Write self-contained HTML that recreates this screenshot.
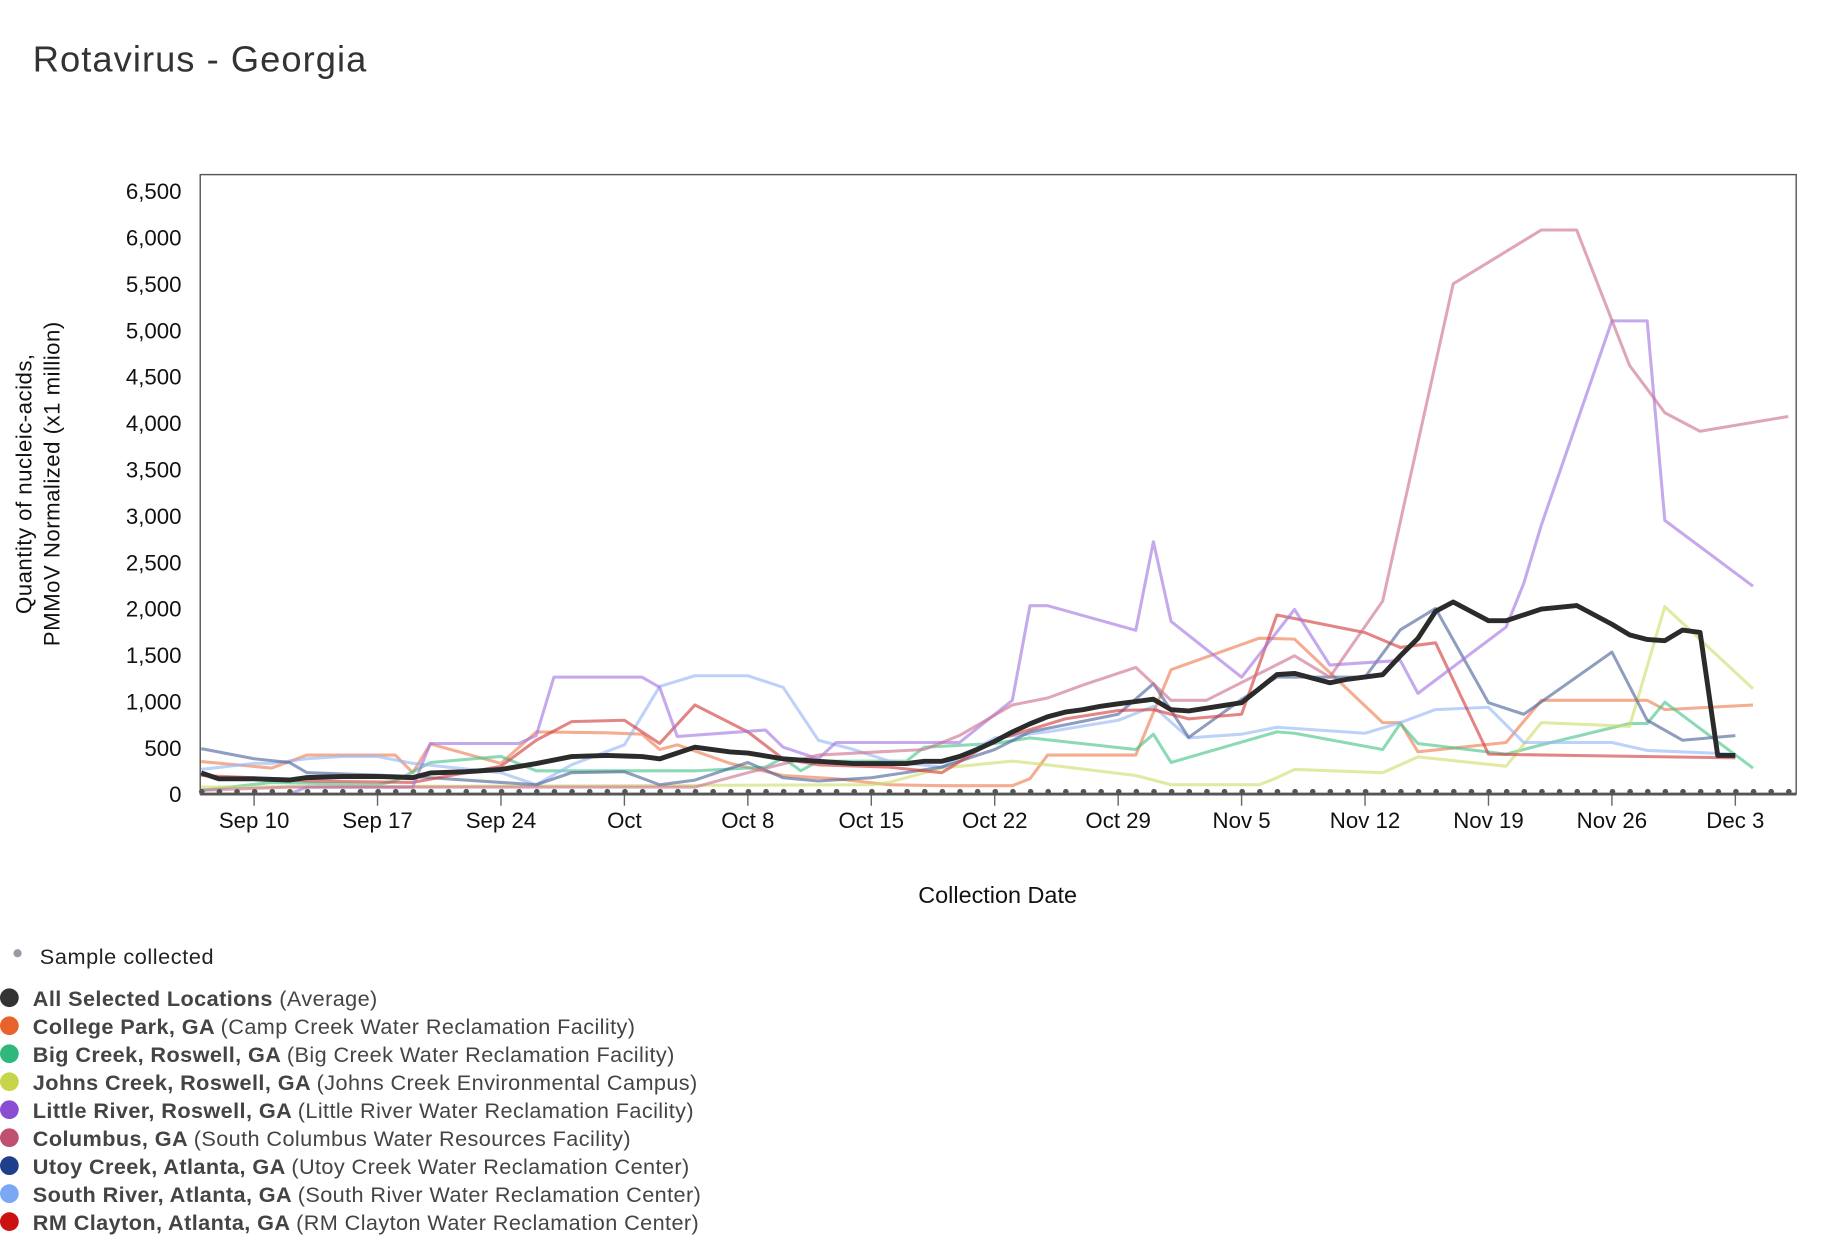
<!DOCTYPE html>
<html><head><meta charset="utf-8"><style>
html,body{margin:0;padding:0;background:#fff;}
svg{display:block;font-family:"Liberation Sans",sans-serif;}
</style></head><body>
<svg id="chart" width="1836" height="1252" viewBox="0 0 1568 1069" xmlns="http://www.w3.org/2000/svg">
<text x="28" y="61" font-size="31" letter-spacing="0.9" fill="#333">Rotavirus - Georgia</text>
<rect x="171" y="149" width="1363" height="529" fill="none" stroke="#555" stroke-width="1.2"/>
<g id="series"></g>
<g id="axes"></g>
<text x="852" y="771" font-size="20" text-anchor="middle" fill="#111">Collection Date</text>
<text transform="translate(27,413) rotate(-90)" font-size="19" letter-spacing="0.4" text-anchor="middle" fill="#111"><tspan x="0" dy="0">Quantity of nucleic-acids,</tspan><tspan x="0" dy="24">PMMoV Normalized (x1 million)</tspan></text>
<g id="legend"></g>
</svg>
<script>
const NS="http://www.w3.org/2000/svg";
const yTicks=[0,500,1000,1500,2000,2500,3000,3500,4000,4500,5000,5500,6000,6500];
const xTickDays=[0,7,14,21,28,35,42,49,56,63,70,77,84];
const xTickLabels=["Sep 10","Sep 17","Sep 24","Oct","Oct 8","Oct 15","Oct 22","Oct 29","Nov 5","Nov 12","Nov 19","Nov 26","Dec 3"];
const sampleDays=[-3,-2,-1,0,1,2,3,4,5,6,7,8,9,10,11,12,13,14,15,16,17,18,19,20,21,22,23,24,25,26,27,28,29,30,31,32,33,34,35,36,37,38,39,40,41,42,43,44,45,46,47,48,49,50,51,52,53,54,55,56,57,58,59,60,61,62,63,64,65,66,67,68,69,70,71,72,73,74,75,76,77,78,79,80,81,82,83,84,85,86,87];

const collegeDays=[-3,1,3,8,9,10,14,16,20,22,23,24,27,30,33,36,39,43,44,45,50,52,57,59,64,65,66,71,73,79,80,85];
const collegeVals=[350,280,420,420,230,540,330,670,660,645,480,530,330,200,165,100,90,90,165,420,420,1340,1680,1670,770,770,455,555,1010,1010,910,960];
const bigDays=[-3,1,7,8,10,14,16,18,25,29,30,31,32,37,38,42,44,50,51,52,58,59,64,65,66,71,73,78,79,80,85];
const bigVals=[40,125,100,140,340,405,250,250,250,290,390,250,355,355,505,545,605,480,645,340,670,655,480,760,545,430,530,760,760,990,280];
const johnsDays=[-3,35,36,39,43,45,50,52,57,58,59,64,66,71,73,78,80,85];
const johnsVals=[75,100,125,280,355,315,200,100,100,175,265,230,400,300,770,730,2020,1135];
const littleDays=[1,2,3,9,10,15,16,17,22,23,24,29,30,32,33,35,40,43,44,45,50,51,52,56,59,61,65,66,71,72,73,77,79,80,85];
const littleVals=[0,0,75,75,545,545,630,1260,1260,1150,620,690,505,380,555,555,555,1010,2030,2030,1765,2720,1860,1260,1990,1390,1440,1085,1800,2270,2900,5100,5100,2950,2240];
const columbusDays=[-3,2,9,25,28,32,38,40,43,45,47,50,52,54,59,61,64,68,73,75,78,80,82,87];
const columbusVals=[40,75,75,75,230,420,480,630,960,1035,1175,1365,1010,1010,1490,1260,2080,5500,6080,6080,4620,4110,3910,4070];
const utoyDays=[-3,0,2,3,9,10,14,16,18,21,23,25,28,30,32,35,39,42,44,49,51,53,56,58,63,65,67,70,72,77,79,81,84];
const utoyVals=[490,380,340,230,190,175,125,100,230,240,100,150,340,175,140,175,290,480,670,860,1190,610,1020,1260,1260,1770,2000,985,860,1530,795,580,630];
const southDays=[-3,0,1,3,5,7,9,14,16,18,21,23,25,28,30,32,34,36,39,42,45,49,51,53,56,58,63,65,67,70,72,75,77,79,84];
const southVals=[265,330,330,380,405,405,330,230,100,315,530,1160,1275,1275,1150,580,480,355,290,605,670,795,945,605,645,720,655,770,910,935,555,555,555,470,430];
const claytonDays=[-3,0,3,9,14,16,18,21,23,25,28,30,32,36,39,42,46,49,51,53,56,58,63,65,67,70,75,84];
const claytonVals=[200,175,140,125,300,580,780,795,545,960,670,380,315,290,230,580,810,900,910,810,860,1930,1740,1580,1630,430,415,390];
const avgDays=[-3,-2,0,2,3,5,7,9,10,12,14,16,18,20,22,23,25,27,28,30,32,34,36,37,38,39,40,41,42,43,44,45,46,47,48,49,51,52,53,56,58,59,61,62,64,65,66,67,68,70,71,73,75,77,78,79,80,81,82,83,84];
const avgVals=[227,164,164,151,177,189,189,177,227,240,265,328,404,416,404,379,505,454,442,379,353,328,328,328,353,353,404,480,568,669,757,833,883,909,946,972,1022,909,896,984,1287,1300,1199,1237,1287,1489,1678,1969,2070,1868,1868,1994,2032,1830,1716,1666,1653,1767,1742,416,416];

const seriesList=[
 {name:"college-park-line",d:collegeDays,v:collegeVals,c:"#ee7a4c"},
 {name:"big-creek-line",d:bigDays,v:bigVals,c:"#45c487"},
 {name:"johns-creek-line",d:johnsDays,v:johnsVals,c:"#cfdc6a"},
 {name:"south-river-line",d:southDays,v:southVals,c:"#94b6f5"},
 {name:"utoy-creek-line",d:utoyDays,v:utoyVals,c:"#4a6296"},
 {name:"rm-clayton-line",d:claytonDays,v:claytonVals,c:"#d23a3a"},
 {name:"little-river-line",d:littleDays,v:littleVals,c:"#a274e0"},
 {name:"columbus-line",d:columbusDays,v:columbusVals,c:"#cc6f8f"}
];
const X=d=>217+d*15.06;
const Y=v=>678-v*(515/6500);
function el(t,a,p){const e=document.createElementNS(NS,t);for(const k in a)e.setAttribute(k,a[k]);p.appendChild(e);return e;}
const axes=document.getElementById("axes"),ser=document.getElementById("series"),leg=document.getElementById("legend");
yTicks.forEach(t=>{
 const tx=el("text",{x:155,y:Y(t)+7,"font-size":19,"text-anchor":"end",fill:"#111"},axes);
 tx.textContent=t.toLocaleString("en-US");
 
 
});
xTickDays.forEach((d,i)=>{
 const l=el("line",{x1:X(d),x2:X(d),y1:678,y2:688,stroke:"#666","stroke-width":1.2},axes);
 
 
 const tx=el("text",{x:X(d),y:707,"font-size":19,"text-anchor":"middle",fill:"#111"},axes);
 tx.textContent=xTickLabels[i];
 
 
});
seriesList.forEach(s=>{
 const p=el("polyline",{points:s.d.map((d,i)=>X(d)+","+Y(s.v[i])).join(" "),fill:"none",stroke:s.c,"stroke-width":2.6,"stroke-opacity":0.62,"stroke-linejoin":"round"},ser);
 
 
});
const avg=el("polyline",{points:avgDays.map((d,i)=>X(d)+","+Y(avgVals[i])).join(" "),fill:"none",stroke:"#2b2b2b","stroke-width":4.2,"stroke-linejoin":"round"},ser);


const ax=el("line",{x1:171,x2:1534,y1:678,y2:678,stroke:"#555","stroke-width":2.5},axes);


sampleDays.forEach(d=>{
 const c=el("circle",{cx:X(d)+0.5,cy:676,r:2.4,fill:"#555"},axes);
 
 
});
const sd=el("circle",{cx:15,cy:814,r:3.5,fill:"#9a9aa6"},leg);


const st=el("text",{x:34,y:823,"font-size":18.5,"letter-spacing":0.5,fill:"#222"},leg);
st.textContent="Sample collected";


const legBold=["All Selected Locations","College Park, GA","Big Creek, Roswell, GA","Johns Creek, Roswell, GA","Little River, Roswell, GA","Columbus, GA","Utoy Creek, Atlanta, GA","South River, Atlanta, GA","RM Clayton, Atlanta, GA"];
const legNorm=["(Average)","(Camp Creek Water Reclamation Facility)","(Big Creek Water Reclamation Facility)","(Johns Creek Environmental Campus)","(Little River Water Reclamation Facility)","(South Columbus Water Resources Facility)","(Utoy Creek Water Reclamation Center)","(South River Water Reclamation Center)","(RM Clayton Water Reclamation Center)"];
const legCol=["#333333","#e8622c","#2fb87a","#c8d44a","#8a4fd0","#c0506f","#1f3f8a","#7aa8f5","#cc1111"];
legBold.forEach((b,i)=>{
 const y=852+i*23.9;
 const g=el("g",{},leg);
 
 
 el("circle",{cx:8,cy:y,r:8,fill:legCol[i]},g);
 const t=el("text",{x:28,y:y+7,"font-size":18.5,"letter-spacing":0.35,fill:"#444"},g);
 const a=el("tspan",{"font-weight":"bold"},t);a.textContent=b+" ";
 const n=el("tspan",{},t);n.textContent=legNorm[i];
});
</script>
</body></html>
